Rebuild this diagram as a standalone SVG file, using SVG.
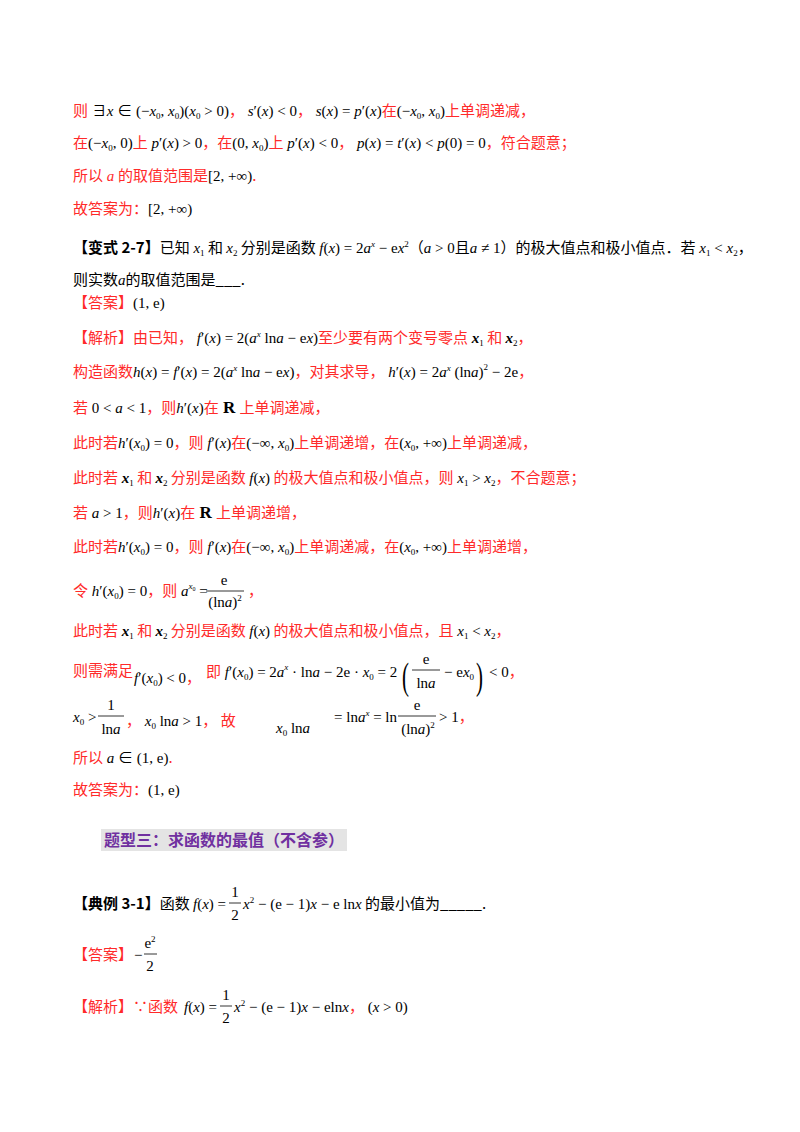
<svg xmlns="http://www.w3.org/2000/svg" width="800" height="1132" viewBox="0 0 800 1132">
<style>
text{font-family:"Liberation Serif","Noto Sans CJK SC",serif;font-size:15px;fill:#000}
.r{fill:#ff2a2a}
.c{font-family:"Noto Sans CJK SC",sans-serif;font-size:15px}
.i{font-style:italic}
.s{font-size:9px}
.b{font-weight:bold}
.R{font-weight:bold;font-size:17px}
.big{font-size:38px}
.fl{stroke:#000;stroke-width:0.8}
.h{font-family:"Noto Sans CJK SC",sans-serif;font-weight:bold;font-size:16px;fill:#7030a0}
</style>
<rect width="800" height="1132" fill="#fff"/>
<g id="body">
<text x="73" y="116"><tspan class="c r">则</tspan> ∃<tspan class="i">x</tspan> ∈ (−<tspan class="i">x</tspan><tspan class="s" dy="3">0</tspan><tspan dy="-3">, </tspan><tspan class="i">x</tspan><tspan class="s" dy="3">0</tspan><tspan dy="-3">)(</tspan><tspan class="i">x</tspan><tspan class="s" dy="3">0</tspan><tspan dy="-3"> &gt; 0)</tspan><tspan class="c r">，</tspan> <tspan class="i">s</tspan>′(<tspan class="i">x</tspan>) &lt; 0<tspan class="c r">，</tspan> <tspan class="i">s</tspan>(<tspan class="i">x</tspan>) = <tspan class="i">p</tspan>′(<tspan class="i">x</tspan>)<tspan class="c r">在</tspan>(−<tspan class="i">x</tspan><tspan class="s" dy="3">0</tspan><tspan dy="-3">, </tspan><tspan class="i">x</tspan><tspan class="s" dy="3">0</tspan><tspan dy="-3">)</tspan><tspan class="c r">上单调递减，</tspan></text>
<text x="73" y="148"><tspan class="c r">在</tspan>(−<tspan class="i">x</tspan><tspan class="s" dy="3">0</tspan><tspan dy="-3">, 0)</tspan><tspan class="c r">上</tspan> <tspan class="i">p</tspan>′(<tspan class="i">x</tspan>) &gt; 0<tspan class="c r">，在</tspan>(0, <tspan class="i">x</tspan><tspan class="s" dy="3">0</tspan><tspan dy="-3">)</tspan><tspan class="c r">上</tspan> <tspan class="i">p</tspan>′(<tspan class="i">x</tspan>) &lt; 0<tspan class="c r">，</tspan> <tspan class="i">p</tspan>(<tspan class="i">x</tspan>) = <tspan class="i">t</tspan>′(<tspan class="i">x</tspan>) &lt; <tspan class="i">p</tspan>(0) = 0<tspan class="c r">，符合题意；</tspan></text>
<text x="73" y="181"><tspan class="c r">所以</tspan><tspan class="i r"> a </tspan><tspan class="c r">的取值范围是</tspan>[2, +∞)<tspan class="c r">.</tspan></text>
<text x="73" y="214"><tspan class="c r">故答案为：</tspan>[2, +∞)</text>
<text x="73" y="253"><tspan class="c b">【变式 2-7】</tspan><tspan class="c">已知</tspan> <tspan class="i">x</tspan><tspan class="s" dy="3">1</tspan><tspan class="c" dy="-3"> 和 </tspan><tspan class="i">x</tspan><tspan class="s" dy="3">2</tspan><tspan class="c" dy="-3"> 分别是函数 </tspan><tspan class="i">f</tspan>(<tspan class="i">x</tspan>) = 2<tspan class="i">a</tspan><tspan class="s i" dy="-6">x</tspan><tspan dy="6"> − e</tspan><tspan class="i">x</tspan><tspan class="s" dy="-6">2</tspan><tspan class="c" dy="6">（</tspan><tspan class="i">a</tspan> &gt; 0<tspan class="c">且</tspan><tspan class="i">a</tspan> ≠ 1<tspan class="c">）的极大值点和极小值点．若</tspan> <tspan class="i">x</tspan><tspan class="s" dy="3">1</tspan><tspan dy="-3"> &lt; </tspan><tspan class="i">x</tspan><tspan class="s" dy="3">2</tspan><tspan class="c" dy="-3">，</tspan></text>
<text x="73" y="285"><tspan class="c">则实数</tspan><tspan class="i">a</tspan><tspan class="c">的取值范围是___.</tspan></text>
<text x="73" y="308"><tspan class="c r">【答案】</tspan>(1, e)</text>
<text x="73" y="343"><tspan class="c r">【解析】由已知，</tspan> <tspan class="i">f</tspan>′(<tspan class="i">x</tspan>) = 2(<tspan class="i">a</tspan><tspan class="s i" dy="-6">x</tspan><tspan dy="6"> ln</tspan><tspan class="i">a</tspan> − e<tspan class="i">x</tspan>)<tspan class="c r">至少要有两个变号零点</tspan><tspan class="i b"> x</tspan><tspan class="s" dy="3">1</tspan><tspan class="c r" dy="-3"> 和 </tspan><tspan class="i b">x</tspan><tspan class="s" dy="3">2</tspan><tspan class="c r" dy="-3">，</tspan></text>
<text x="73" y="377"><tspan class="c r">构造函数</tspan><tspan class="i">h</tspan>(<tspan class="i">x</tspan>) = <tspan class="i">f</tspan>′(<tspan class="i">x</tspan>) = 2(<tspan class="i">a</tspan><tspan class="s i" dy="-6">x</tspan><tspan dy="6"> ln</tspan><tspan class="i">a</tspan> − e<tspan class="i">x</tspan>)<tspan class="c r">，对其求导，</tspan> <tspan class="i">h</tspan>′(<tspan class="i">x</tspan>) = 2<tspan class="i">a</tspan><tspan class="s i" dy="-6">x</tspan><tspan dy="6"> (ln</tspan><tspan class="i">a</tspan>)<tspan class="s" dy="-7">2</tspan><tspan dy="7"> − 2e</tspan><tspan class="c r">，</tspan></text>
<text x="73" y="413"><tspan class="c r">若</tspan> 0 &lt; <tspan class="i">a</tspan> &lt; 1<tspan class="c r">，则</tspan><tspan class="i">h</tspan>′(<tspan class="i">x</tspan>)<tspan class="c r">在</tspan><tspan class="R"> R </tspan><tspan class="c r">上单调递减，</tspan></text>
<text x="73" y="448"><tspan class="c r">此时若</tspan><tspan class="i">h</tspan>′(<tspan class="i">x</tspan><tspan class="s" dy="3">0</tspan><tspan dy="-3">) = 0</tspan><tspan class="c r">，则</tspan> <tspan class="i">f</tspan>′(<tspan class="i">x</tspan>)<tspan class="c r">在</tspan>(−∞, <tspan class="i">x</tspan><tspan class="s" dy="3">0</tspan><tspan dy="-3">)</tspan><tspan class="c r">上单调递增，在</tspan>(<tspan class="i">x</tspan><tspan class="s" dy="3">0</tspan><tspan dy="-3">, +∞)</tspan><tspan class="c r">上单调递减，</tspan></text>
<text x="73" y="483"><tspan class="c r">此时若</tspan><tspan class="i b"> x</tspan><tspan class="s" dy="3">1</tspan><tspan class="c r" dy="-3"> 和 </tspan><tspan class="i b">x</tspan><tspan class="s" dy="3">2</tspan><tspan class="c r" dy="-3"> 分别是函数 </tspan><tspan class="i">f</tspan>(<tspan class="i">x</tspan>)<tspan class="c r"> 的极大值点和极小值点，则</tspan> <tspan class="i">x</tspan><tspan class="s" dy="3">1</tspan><tspan dy="-3"> &gt; </tspan><tspan class="i">x</tspan><tspan class="s" dy="3">2</tspan><tspan class="c r" dy="-3">，不合题意；</tspan></text>
<text x="73" y="518"><tspan class="c r">若</tspan> <tspan class="i">a</tspan> &gt; 1<tspan class="c r">，则</tspan><tspan class="i">h</tspan>′(<tspan class="i">x</tspan>)<tspan class="c r">在</tspan><tspan class="R"> R </tspan><tspan class="c r">上单调递增，</tspan></text>
<text x="73" y="552"><tspan class="c r">此时若</tspan><tspan class="i">h</tspan>′(<tspan class="i">x</tspan><tspan class="s" dy="3">0</tspan><tspan dy="-3">) = 0</tspan><tspan class="c r">，则</tspan> <tspan class="i">f</tspan>′(<tspan class="i">x</tspan>)<tspan class="c r">在</tspan>(−∞, <tspan class="i">x</tspan><tspan class="s" dy="3">0</tspan><tspan dy="-3">)</tspan><tspan class="c r">上单调递减，在</tspan>(<tspan class="i">x</tspan><tspan class="s" dy="3">0</tspan><tspan dy="-3">, +∞)</tspan><tspan class="c r">上单调递增，</tspan></text>
<text x="73" y="596"><tspan class="c r">令</tspan> <tspan class="i">h</tspan>′(<tspan class="i">x</tspan><tspan class="s" dy="3">0</tspan><tspan dy="-3">) = 0</tspan><tspan class="c r">，则</tspan> <tspan class="i">a</tspan><tspan class="s i" dy="-7">x</tspan><tspan style="font-size:6px" dy="2">0</tspan><tspan dy="5"> = </tspan></text>
<text x="224" y="585" text-anchor="middle">e</text><line class="fl" x1="206" y1="591" x2="244" y2="591"/>
<text x="225" y="607" text-anchor="middle">(ln<tspan class="i">a</tspan>)<tspan class="s" dy="-6">2</tspan></text>
<text x="248" y="596" class="c r">，</text>
<text x="73" y="636"><tspan class="c r">此时若</tspan><tspan class="i b"> x</tspan><tspan class="s" dy="3">1</tspan><tspan class="c r" dy="-3"> 和 </tspan><tspan class="i b">x</tspan><tspan class="s" dy="3">2</tspan><tspan class="c r" dy="-3"> 分别是函数 </tspan><tspan class="i">f</tspan>(<tspan class="i">x</tspan>)<tspan class="c r"> 的极大值点和极小值点，且</tspan> <tspan class="i">x</tspan><tspan class="s" dy="3">1</tspan><tspan dy="-3"> &lt; </tspan><tspan class="i">x</tspan><tspan class="s" dy="3">2</tspan><tspan class="c r" dy="-3">，</tspan></text>
<text x="73" y="676" class="c r">则需满足</text>
<text x="134" y="683"><tspan class="i">f</tspan>′(<tspan class="i">x</tspan><tspan class="s" dy="3">0</tspan><tspan dy="-3">) &lt; 0</tspan><tspan class="c r">，</tspan></text>
<text x="206" y="677"><tspan class="c r">即</tspan> <tspan class="i">f</tspan>′(<tspan class="i">x</tspan><tspan class="s" dy="3">0</tspan><tspan dy="-3">) = 2</tspan><tspan class="i">a</tspan><tspan class="s i" dy="-7">x</tspan><tspan dy="7"> · ln</tspan><tspan class="i">a</tspan> − 2e · <tspan class="i">x</tspan><tspan class="s" dy="3">0</tspan><tspan dy="-3"> = 2</tspan></text>
<text class="big" transform="translate(402,689) scale(0.55,1)">(</text>
<text x="426" y="664" text-anchor="middle">e</text><line class="fl" x1="412" y1="670" x2="440" y2="670"/>
<text x="426" y="688" text-anchor="middle">ln<tspan class="i">a</tspan></text>
<text x="444" y="677">− e<tspan class="i">x</tspan><tspan class="s" dy="3">0</tspan></text>
<text class="big" transform="translate(476,689) scale(0.55,1)">)</text>
<text x="489" y="677">&lt; 0<tspan class="c r">，</tspan></text>
<text x="73" y="722"><tspan class="i">x</tspan><tspan class="s" dy="3">0</tspan><tspan dy="-3"> &gt;</tspan></text>
<text x="111" y="710" text-anchor="middle">1</text><line class="fl" x1="98" y1="716" x2="124" y2="716"/>
<text x="111" y="734" text-anchor="middle">ln<tspan class="i">a</tspan></text>
<text x="126" y="726"><tspan class="c r">，</tspan> <tspan class="i">x</tspan><tspan class="s" dy="3">0</tspan><tspan dy="-3"> ln</tspan><tspan class="i">a</tspan> &gt; 1<tspan class="c r">， 故</tspan></text>
<text x="276" y="733"><tspan class="i">x</tspan><tspan class="s" dy="3">0</tspan><tspan dy="-3"> ln</tspan><tspan class="i">a</tspan></text>
<text x="334" y="722">= ln<tspan class="i">a</tspan><tspan class="s i" dy="-6">x</tspan><tspan dy="6"> = ln</tspan></text>
<text x="417" y="710" text-anchor="middle">e</text><line class="fl" x1="398" y1="716" x2="436" y2="716"/>
<text x="418" y="734" text-anchor="middle">(ln<tspan class="i">a</tspan>)<tspan class="s" dy="-6">2</tspan></text>
<text x="439" y="722">&gt; 1<tspan class="c r">，</tspan></text>
<text x="73" y="763"><tspan class="c r">所以</tspan> <tspan class="i">a</tspan> ∈ (1, e)<tspan class="c r">.</tspan></text>
<text x="73" y="795"><tspan class="c r">故答案为：</tspan>(1, e)</text>
</g>
<g id="heading">
<rect x="101" y="829" width="246" height="22" fill="#e4e4e4"/>
<text x="104" y="846" class="h">题型三：求函数的最值（不含参）</text>
</g>
<g id="example">
<text x="73" y="909"><tspan class="c b">【典例 3-1】</tspan><tspan class="c">函数</tspan></text>
<text x="193" y="909"><tspan class="i">f</tspan>(<tspan class="i">x</tspan>) =</text>
<text x="235" y="897" text-anchor="middle">1</text><line class="fl" x1="229" y1="903" x2="241" y2="903"/>
<text x="235" y="920" text-anchor="middle">2</text>
<text x="243" y="909"><tspan class="i">x</tspan><tspan class="s" dy="-6">2</tspan><tspan dy="6"> − (e − 1)</tspan><tspan class="i">x</tspan> − e ln<tspan class="i">x</tspan><tspan class="c"> 的最小值为_____.</tspan></text>
<text x="73" y="960" class="c r">【答案】</text>
<text x="134" y="960">−</text>
<text x="150" y="948" text-anchor="middle">e<tspan class="s" dy="-6">2</tspan></text><line class="fl" x1="144" y1="954" x2="157" y2="954"/>
<text x="150" y="971" text-anchor="middle">2</text>
<text x="73" y="1012"><tspan class="c r">【解析】∵函数</tspan></text>
<text x="184" y="1012"><tspan class="i">f</tspan>(<tspan class="i">x</tspan>) =</text>
<text x="226" y="1000" text-anchor="middle">1</text><line class="fl" x1="220" y1="1006" x2="232" y2="1006"/>
<text x="226" y="1023" text-anchor="middle">2</text>
<text x="234" y="1012"><tspan class="i">x</tspan><tspan class="s" dy="-6">2</tspan><tspan dy="6"> − (e − 1)</tspan><tspan class="i">x</tspan> − eln<tspan class="i">x</tspan><tspan class="c r">，</tspan> (<tspan class="i">x</tspan> &gt; 0)</text>
</g>
</svg>
